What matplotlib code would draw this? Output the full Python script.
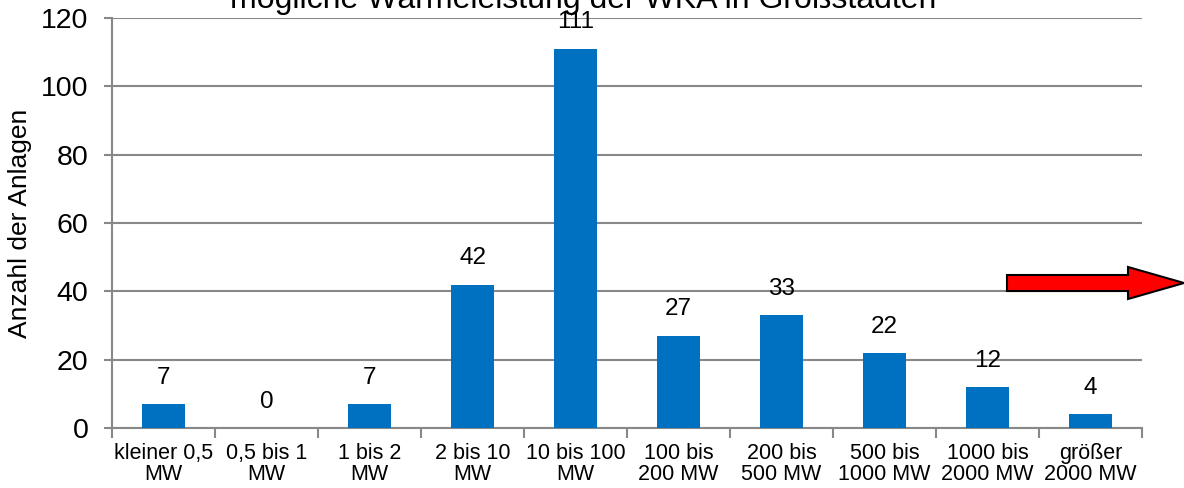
import matplotlib
matplotlib.use("Agg")
import matplotlib.pyplot as plt
from matplotlib.patches import FancyArrow

plt.rcParams['font.family'] = ['Liberation Sans', 'DejaVu Sans']

categories = ['kleiner 0,5\nMW', '0,5 bis 1\nMW', '1 bis 2\nMW', '2 bis 10\nMW',
              '10 bis 100\nMW', '100 bis\n200 MW', '200 bis\n500 MW', '500 bis\n1000 MW',
              '1000 bis\n2000 MW', 'größer\n2000 MW']
anzahl = [7, 0, 7, 42, 111, 27, 33, 22, 12, 4]
y_ticks = [0, 20, 40, 60, 80, 100, 120]

fig = plt.figure(figsize=(11.84, 4.88), dpi=100)
ax = fig.add_axes([112/1184, 60/488, 1030/1184, 410/488])

x = list(range(len(categories)))
bars = ax.bar(x, anzahl, width=0.41, color='#0070C0', zorder=3)
for xi, v in zip(x, anzahl):
    ax.annotate(str(v), (xi, v), xytext=(0, 11), textcoords='offset points',
                ha='center', va='bottom', fontsize=17.5, zorder=4)

ax.set_xlim(-0.5, len(categories) - 0.5)
ax.set_ylim(0, 120)
ax.set_yticks(y_ticks)
ax.tick_params(axis='y', labelsize=20.5, length=6, width=1.5, color='#888888', pad=11)
ax.yaxis.grid(True, color='#888888', linewidth=1.5, zorder=0)

# Kategorienlabels mittig, Striche an den Grenzen
ax.set_xticks(x)
ax.set_xticklabels(categories, fontsize=15.5, linespacing=1.0)
ax.tick_params(axis='x', length=0, pad=11)
ax.set_xticks([i - 0.5 for i in range(len(categories) + 1)], minor=True)
ax.tick_params(axis='x', which='minor', length=7, width=1.5, color='#888888')

for s in ['top', 'right']:
    ax.spines[s].set_visible(False)
for s in ['left', 'bottom']:
    ax.spines[s].set_color('#888888')
    ax.spines[s].set_linewidth(1.5)

ax.set_ylabel('Anzahl der Anlagen', fontsize=19)
ax.yaxis.set_label_coords(-0.078, 0.5)

fig.text(583/1184, 1 - 8/488, 'mögliche Wärmeleistung der WKA in Großstädten',
         ha='center', va='baseline', fontsize=23)

# roter Pfeil rechts
arrow = FancyArrow(1007/1184, 1 - 283/488, 177/1184, 0, width=16/488,
                   head_width=32/488, head_length=56/1184, length_includes_head=True,
                   transform=fig.transFigure, facecolor='#FF0000', edgecolor='black',
                   linewidth=1.5)
fig.patches.append(arrow)

fig.savefig('out.png', dpi=100)
